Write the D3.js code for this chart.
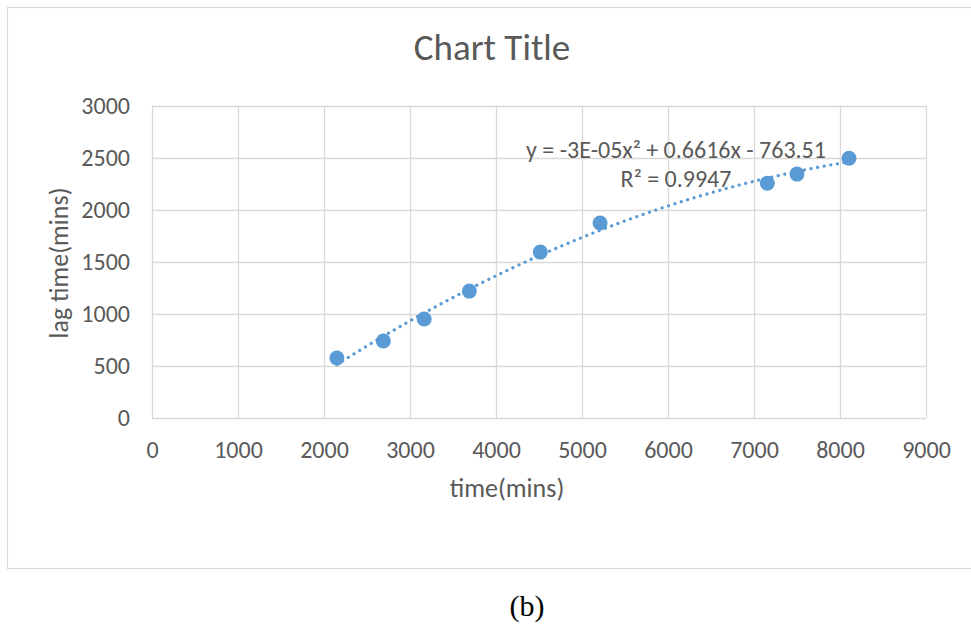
<!DOCTYPE html>
<html>
<head>
<meta charset="utf-8">
<script src="https://cdn.jsdelivr.net/npm/d3@7"></script>
<style>
  html, body { margin: 0; padding: 0; background: #ffffff; }
  svg { display: block; }
  .lbl { font-family: Carlito, Calibri, "DejaVu Sans", sans-serif; fill: #595959; }
</style>
</head>
<body>
<svg id="chart" width="971" height="629"></svg>
<script>
// Measured lag time against elapsed time
const timeMins = [2150, 2690, 3165, 3690, 4515, 5210, 7155, 7500, 8105];
const lagMins  = [577, 740, 952, 1220, 1595, 1875, 2258, 2345, 2498];

const xTicks = [0, 1000, 2000, 3000, 4000, 5000, 6000, 7000, 8000, 9000];
const yTicks = [0, 500, 1000, 1500, 2000, 2500, 3000];

const chartTitle = "Chart Title";
const xTitle = "time(mins)";
const yTitle = "lag time(mins)";
const equationText = "y = -3E-05x² + 0.6616x - 763.51";
const r2Text = "R² = 0.9947";
const caption = "(b)";

const W = 971, H = 629;
const plot = { left: 152, right: 926, top: 106, bottom: 418 };

const svg = d3.select("#chart");

const x = d3.scaleLinear().domain([0, 9000]).range([plot.left, plot.right]);
const y = d3.scaleLinear().domain([0, 3000]).range([plot.bottom, plot.top]);

// chart area frame
svg.append("rect")
  .attr("x", 7.5).attr("y", 7.5)
  .attr("width", 980).attr("height", 561)
  .attr("fill", "#ffffff")
  .attr("stroke", "#d9d9d9").attr("stroke-width", 1.2);

// gridlines
const gx = svg.append("g")
  .attr("transform", `translate(0,${plot.bottom})`)
  .call(d3.axisBottom(x).tickValues(xTicks).tickSize(-(plot.bottom - plot.top)).tickFormat(""));
const gy = svg.append("g")
  .attr("transform", `translate(${plot.left},0)`)
  .call(d3.axisLeft(y).tickValues(yTicks).tickSize(-(plot.right - plot.left)).tickFormat(""));
[gx, gy].forEach(g => {
  g.select(".domain").remove();
  g.selectAll(".tick line").attr("stroke", "#d9d9d9").attr("stroke-width", 1.3);
});

// tick labels
const xl = svg.append("g")
  .attr("transform", `translate(0,${plot.bottom})`)
  .call(d3.axisBottom(x).tickValues(xTicks).tickSize(0).tickPadding(23).tickFormat(d3.format("d")));
const yl = svg.append("g")
  .attr("transform", `translate(${plot.left},0)`)
  .call(d3.axisLeft(y).tickValues(yTicks).tickSize(0).tickPadding(22).tickFormat(d3.format("d")));
[xl, yl].forEach(g => {
  g.select(".domain").remove();
  g.selectAll("text").attr("class", "lbl").attr("font-size", 24).attr("fill", "#595959");
});

// polynomial (order 2) least-squares trendline
function quadFit(xs, ys) {
  const n = xs.length;
  let s = [0, 0, 0, 0, 0], t = [0, 0, 0];
  for (let i = 0; i < n; i++) {
    const xi = xs[i], yi = ys[i];
    for (let k = 0; k <= 4; k++) s[k] += Math.pow(xi, k);
    for (let k = 0; k <= 2; k++) t[k] += yi * Math.pow(xi, k);
  }
  // normal equations for c + b x + a x^2
  const M = [
    [s[0], s[1], s[2], t[0]],
    [s[1], s[2], s[3], t[1]],
    [s[2], s[3], s[4], t[2]]
  ];
  for (let i = 0; i < 3; i++) {
    let p = i;
    for (let r = i + 1; r < 3; r++) if (Math.abs(M[r][i]) > Math.abs(M[p][i])) p = r;
    [M[i], M[p]] = [M[p], M[i]];
    for (let r = 0; r < 3; r++) {
      if (r === i) continue;
      const f = M[r][i] / M[i][i];
      for (let c = i; c < 4; c++) M[r][c] -= f * M[i][c];
    }
  }
  const c0 = M[0][3] / M[0][0], c1 = M[1][3] / M[1][1], c2 = M[2][3] / M[2][2];
  return xv => c0 + c1 * xv + c2 * xv * xv;
}
const fit = quadFit(timeMins, lagMins);
const xMin = d3.min(timeMins), xMax = d3.max(timeMins);
const trendPts = d3.range(0, 101).map(i => {
  const xv = xMin + (xMax - xMin) * i / 100;
  return [xv, fit(xv)];
});

// data markers
svg.append("g").selectAll("circle")
  .data(timeMins.map((t, i) => [t, lagMins[i]]))
  .join("circle")
  .attr("cx", d => x(d[0]))
  .attr("cy", d => y(d[1]))
  .attr("r", 7.5)
  .attr("fill", "#5b9bd5");

svg.append("path")
  .datum(trendPts)
  .attr("d", d3.line().x(d => x(d[0])).y(d => y(d[1])))
  .attr("fill", "none")
  .attr("stroke", "#5b9bd5")
  .attr("stroke-width", 3.2)
  .attr("stroke-linecap", "round")
  .attr("stroke-dasharray", "0.1 6.6");

// trendline equation
svg.append("text").attr("class", "lbl")
  .attr("x", 676).attr("y", 158).attr("text-anchor", "middle").attr("font-size", 24)
  .text(equationText);
svg.append("text").attr("class", "lbl")
  .attr("x", 676).attr("y", 187).attr("text-anchor", "middle").attr("font-size", 24)
  .text(r2Text);

// titles
svg.append("text").attr("class", "lbl")
  .attr("x", 492).attr("y", 60).attr("text-anchor", "middle").attr("font-size", 37)
  .text(chartTitle);
svg.append("text").attr("class", "lbl")
  .attr("x", 507).attr("y", 497).attr("text-anchor", "middle").attr("font-size", 26)
  .text(xTitle);
svg.append("text").attr("class", "lbl")
  .attr("transform", `translate(68,263) rotate(-90)`)
  .attr("text-anchor", "middle").attr("font-size", 26)
  .text(yTitle);

// caption below the chart
svg.append("text")
  .attr("x", 527).attr("y", 616).attr("text-anchor", "middle")
  .attr("font-family", "'Liberation Serif', 'Times New Roman', serif")
  .attr("font-size", 30).attr("fill", "#000000")
  .text(caption);
</script>
</body>
</html>
